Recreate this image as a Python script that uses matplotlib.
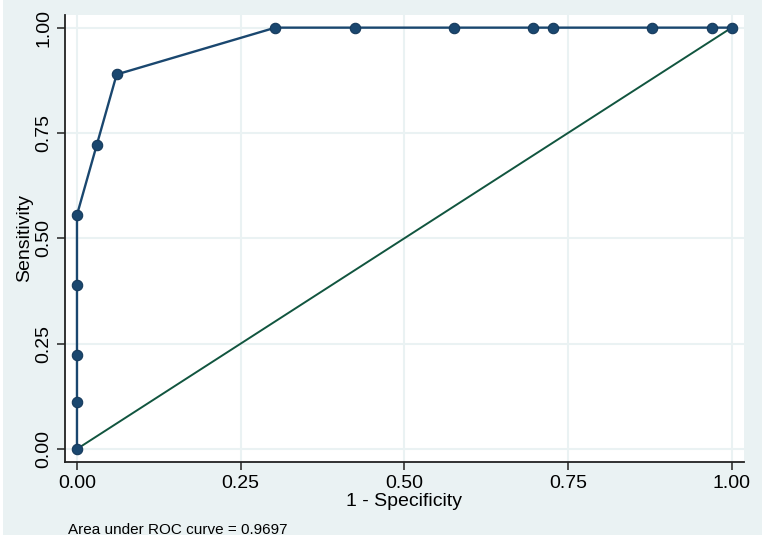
import matplotlib
matplotlib.use("Agg")
import matplotlib.pyplot as plt
from matplotlib.patches import Rectangle

# ROC data (1 - specificity, sensitivity)
fpr = [0.0, 0.0, 0.0, 0.0, 0.0, 0.0303, 0.0606, 0.3030, 0.4242, 0.5758,
       0.6970, 0.7273, 0.8788, 0.9697, 1.0]
tpr = [0.0, 0.1111, 0.2222, 0.3889, 0.5556, 0.7222, 0.8889, 1.0, 1.0, 1.0,
       1.0, 1.0, 1.0, 1.0, 1.0]
ref_x = [0.0, 1.0]
ref_y = [0.0, 1.0]
ticks = [0.0, 0.25, 0.5, 0.75, 1.0]
tick_labels = ["0.00", "0.25", "0.50", "0.75", "1.00"]
auc_note = "Area under ROC curve = 0.9697"

plt.rcParams['font.family'] = ['Liberation Sans', 'DejaVu Sans']

W, H = 765, 539
fig = plt.figure(figsize=(W / 100, H / 100), dpi=100)
fig.patch.set_facecolor('white')
bg = '#eaf2f3'
fig.patches.append(Rectangle((3 / W, 1 - 535 / H), (762 - 3) / W, 535 / H,
                             transform=fig.transFigure, facecolor=bg,
                             edgecolor='none', zorder=-10))

left, right, top, bottom = 65, 744, 15, 462
ax = fig.add_axes([left / W, 1 - bottom / H, (right - left) / W, (bottom - top) / H])
ax.set_zorder(5)
ax.set_facecolor('white')

ax.set_xlim(-0.0183, 1.0188)
ax.set_ylim(-0.0309, 1.030)

for t in ticks:
    ax.axvline(t, color=bg, lw=1.5, zorder=1)
    ax.axhline(t, color=bg, lw=1.5, zorder=1)

ax.plot(ref_x, ref_y, color='#11553f', lw=1.4, zorder=2)
ax.plot(fpr, tpr, color='#1a476f', lw=1.7, marker='o', markersize=7.5,
        markerfacecolor='#1a476f', markeredgecolor='#163a5c',
        markeredgewidth=0.8, zorder=3)

for s in ['top', 'right']:
    ax.spines[s].set_visible(False)
for s in ['left', 'bottom']:
    ax.spines[s].set_color('#222222')
    ax.spines[s].set_linewidth(1.3)

ax.set_xticks(ticks)
ax.set_xticklabels(tick_labels)
ax.set_yticks(ticks)
ax.set_yticklabels(tick_labels, rotation=90, va='center')
ax.tick_params(axis='both', length=6, width=1.1, color='#222222',
               labelsize=14, labelcolor='black', pad=3)

ax.set_xlabel("1 - Specificity", fontsize=14, labelpad=1)
ax.set_ylabel("Sensitivity", fontsize=14, labelpad=2)

fig.text(68 / W, 1 - 530 / H, auc_note, fontsize=11, ha='left', va='center')

fig.savefig("out.png", dpi=100, facecolor=fig.get_facecolor())
